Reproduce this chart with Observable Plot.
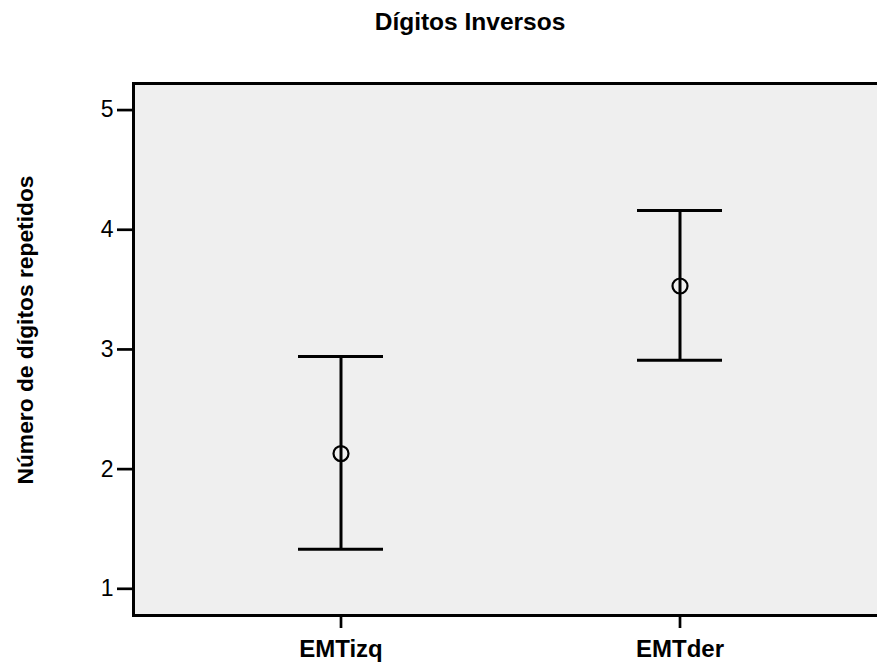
<!DOCTYPE html>
<html>
<head>
<meta charset="utf-8">
<script src="https://cdn.jsdelivr.net/npm/d3@7"></script>
<script src="https://cdn.jsdelivr.net/npm/@observablehq/plot@0.6"></script>
<style>
  body { margin: 0; background: #fff; }
  #chart { position: relative; width: 877px; height: 662px; }
</style>
</head>
<body>
<div id="chart"></div>
<script>
const categories = ["EMTizq", "EMTder"];
const means = [2.13, 3.53];
const lower = [1.33, 2.91];
const upper = [2.94, 4.16];
const yTicks = [1, 2, 3, 4, 5];
const title = "Dígitos Inversos";
const yLabel = "Número de dígitos repetidos";

const data = categories.map((c, i) => ({cat: c, mean: means[i], lo: lower[i], hi: upper[i]}));

const font = "'Liberation Sans', Arial, sans-serif";

const plot = Plot.plot({
  width: 877,
  height: 662,
  marginLeft: 133,
  marginRight: -4,
  marginTop: 83,
  marginBottom: 47,
  style: {fontFamily: font, background: "white", overflow: "visible"},
  x: {type: "band", domain: categories, range: [133, 888], paddingInner: 0.749, paddingOuter: 0.488},
  y: {domain: [0.777, 5.222]},
  marks: [
    Plot.frame({fill: "#efefef", stroke: null}),
    Plot.ruleX(data, {x: "cat", y1: "lo", y2: "hi", stroke: "black", strokeWidth: 3}),
    Plot.tickY(data, {x: "cat", y: "lo", stroke: "black", strokeWidth: 3}),
    Plot.tickY(data, {x: "cat", y: "hi", stroke: "black", strokeWidth: 3}),
    Plot.dot(data, {x: "cat", y: "mean", r: 7.5, stroke: "black", strokeWidth: 2.2, fill: "none"}),
    Plot.axisY({ticks: yTicks, tickSize: 16, tickPadding: 4, tickFormat: d3.format("d"),
      fontSize: 23, label: null, strokeWidth: 2.7, stroke: "black", color: "black"}),
    Plot.axisX({tickSize: 13, tickPadding: 11, fontSize: 24, fontWeight: "bold",
      label: null, strokeWidth: 2.7, stroke: "black", color: "black"}),
    Plot.frame({stroke: "black", strokeWidth: 3, fill: "none"})
  ]
});

const svg = d3.select(plot);
svg.append("text")
  .attr("x", 470).attr("y", 30)
  .attr("text-anchor", "middle")
  .attr("font-family", font).attr("font-weight", "bold").attr("font-size", 24.5)
  .attr("fill", "black")
  .text(title);
svg.append("text")
  .attr("transform", "translate(33,330) rotate(-90)")
  .attr("text-anchor", "middle")
  .attr("font-family", font).attr("font-weight", "bold").attr("font-size", 22.8)
  .attr("fill", "black")
  .text(yLabel);

document.getElementById("chart").appendChild(plot);
</script>
</body>
</html>
